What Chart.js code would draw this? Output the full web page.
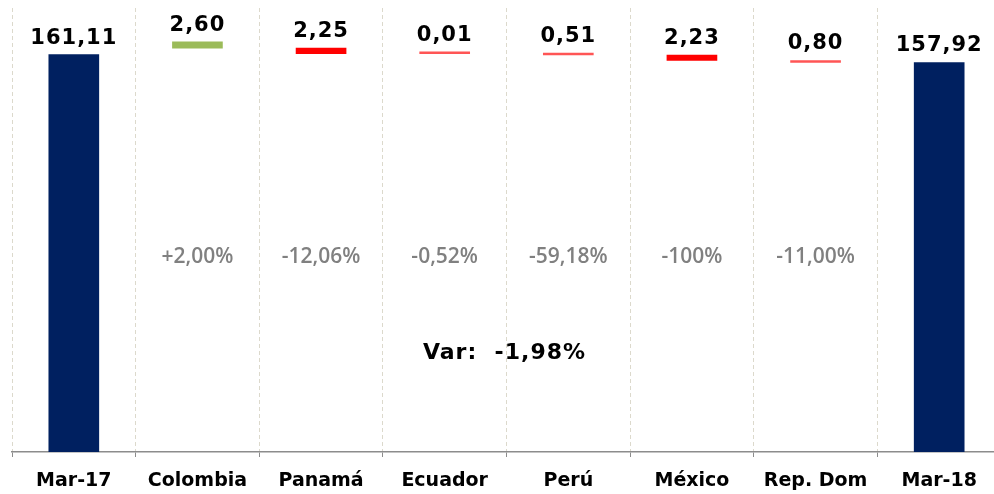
<!DOCTYPE html>
<html>
<head>
<meta charset="utf-8">
<script src="https://cdn.jsdelivr.net/npm/chart.js@4.4.1/dist/chart.umd.min.js"></script>
<style>
  html, body { margin: 0; padding: 0; overflow: hidden; background: #fff; }
  #wrap { position: absolute; left: 0; top: 0; width: 1013px; height: 494px; }
</style>
</head>
<body>
<div id="wrap"><canvas id="waterfall"></canvas></div>
<script>
const categories = ['Mar-17', 'Colombia', 'Panamá', 'Ecuador', 'Perú', 'México', 'Rep. Dom', 'Mar-18'];
// opening / closing totals (null where the column is a step)
const totals = [161.11, null, null, null, null, null, null, 157.92];
// step changes, and the level each step bar starts from as drawn
const changes = [null, 2.60, -2.25, -0.01, -0.51, -2.23, -0.80, null];
const stepBase = [null, 163.71, 163.71, 161.46, 161.45, 160.94, 158.71, null];
const pctLabels = ['', '+2,00%', '-12,06%', '-0,52%', '-59,18%', '-100%', '-11,00%', ''];
const totalVar = 'Var:  -1,98%';

const fmt = v => v.toFixed(2).replace('.', ',');

const barData = categories.map((c, i) =>
  totals[i] != null ? [0, totals[i]] : [stepBase[i], stepBase[i] + changes[i]]);

const barColors = categories.map((c, i) => {
  if (totals[i] != null) return '#002060';
  if (changes[i] > 0) return '#9bbb59';
  return Math.abs(changes[i]) < 1 ? '#ff5555' : '#ff0000';
});

const labelPlugin = {
  id: 'waterfallLabels',
  afterDatasetsDraw(chart) {
    const ctx = chart.ctx;
    const meta = chart.getDatasetMeta(0);
    const y = chart.scales.y;
    const area = chart.chartArea;
    ctx.save();
    ctx.textAlign = 'center';
    meta.data.forEach((bar, i) => {
      const top = Math.min(bar.y, bar.base);
      const v = totals[i] != null ? totals[i] : Math.abs(changes[i]);
      ctx.font = 'bold 21px "DejaVu Sans"';
      ctx.letterSpacing = '1px';
      ctx.fillStyle = '#000';
      ctx.textBaseline = 'alphabetic';
      ctx.fillText(fmt(v), bar.x, top - 11);
      if (pctLabels[i]) {
        ctx.font = '600 21px "Open Sans"';
        ctx.letterSpacing = '0px';
        ctx.fillStyle = '#808080';
        ctx.textBaseline = 'middle';
        ctx.fillText(pctLabels[i], bar.x, y.getPixelForValue(79));
      }
    });
    ctx.font = 'bold 22px "DejaVu Sans"';
    ctx.letterSpacing = '1px';
    ctx.fillStyle = '#000';
    ctx.textBaseline = 'middle';
    ctx.fillText(totalVar, (area.left + area.right) / 2 - 2, y.getPixelForValue(40));
    ctx.restore();
  }
};

new Chart(document.getElementById('waterfall'), {
  type: 'bar',
  data: {
    labels: categories,
    datasets: [{
      data: barData,
      backgroundColor: barColors,
      borderWidth: 0,
      barThickness: 50,
      minBarLength: 2
    }]
  },
  options: {
    responsive: true,
    maintainAspectRatio: false,
    animation: false,
    layout: { padding: { left: 12, right: 12, top: 8, bottom: 0 } },
    plugins: { legend: { display: false }, tooltip: { enabled: false } },
    scales: {
      x: {
        grid: {
          offset: true,
          color: '#dcd9cc',
          tickLength: 5,
          tickColor: '#8c8c8c',
          tickBorderDash: [],
          tickWidth: 1
        },
        border: { display: true, color: '#8c8c8c', width: 1.5, dash: [4, 3] },
        ticks: {
          color: '#000',
          padding: 13,
          font: { family: '"DejaVu Sans"', size: 19, weight: 'bold' }
        },
        afterFit(scale) { scale.height = 42; }
      },
      y: {
        display: false,
        min: 0,
        max: 180
      }
    }
  },
  plugins: [labelPlugin]
});
</script>
</body>
</html>
